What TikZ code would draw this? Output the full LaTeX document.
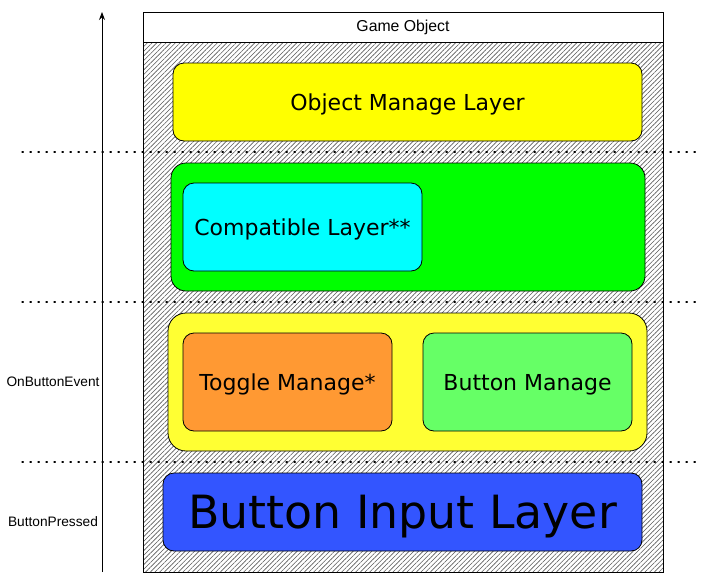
\documentclass[tikz,border=0pt]{standalone}
\usepackage{fontspec}
\setmainfont{DejaVu Sans}
\newfontfamily\etiqfont{Liberation Sans}
\usetikzlibrary{positioning, patterns.meta, arrows.meta}
\definecolor{amarillo}{HTML}{FFFF00}
\definecolor{amarillob}{HTML}{FFFF33}
\definecolor{verde}{HTML}{00FF00}
\definecolor{verdeb}{HTML}{66FF66}
\definecolor{cian}{HTML}{00FFFF}
\definecolor{naranja}{HTML}{FF9933}
\definecolor{azul}{HTML}{3355FF}
\tikzset{
	x=1pt, y=-1pt, % Un pixel por punto
	capa/.style={draw, line width=0.8pt, inner sep=0pt, text depth=0pt, font=\fontsize{22}{26}\selectfont}, % Cajas de las capas
	etiqueta/.style={font=\etiqfont\fontsize{13.7}{16}\selectfont}, % Textos de la izquierda
	separador/.style={line width=1.3pt, dash pattern=on 1.3pt off 6.7pt, line cap=round}, % Lineas punteadas
	rayado/.style={pattern={Lines[angle=45, distance=3.3pt, line width=0.6pt]}, pattern color=black!65} % Relleno del objeto
}

\begin{document}
\begin{tikzpicture}
	\useasboundingbox (0,0) rectangle (710,587);
	% contenedor
	\node[draw, line width=0.8pt, rayado, minimum width=520, minimum height=530] (go) at (403,307) {};
	\node[draw, line width=0.8pt, fill=white, minimum width=520, minimum height=30, etiqueta, font=\etiqfont\fontsize{15.8}{18}\selectfont] (tit) at (403,27) {Game Object};
	% separadores
	\foreach \y/\n in {152/s1, 302/s2, 462/s3} {
		\coordinate (\n a) at (22,\y);
		\coordinate (\n b) at (697,\y);
		\draw[separador] (\n a) -- (\n b);
	}
	% capas
	\node[capa, fill=amarillo, rounded corners=11, minimum width=469, minimum height=78] (om) at (407.5,102) {Object Manage Layer};
	\node[capa, fill=verde, rounded corners=15, minimum width=474, minimum height=128] (cg) at (408,227) {};
	\node[capa, fill=cian, rounded corners=11, minimum width=239, minimum height=88] (cl) at (302.5,227) {Compatible Layer**};
	\node[capa, fill=amarillob, rounded corners=18, minimum width=479, minimum height=138] (bg) at (407.5,382) {};
	\node[capa, fill=naranja, rounded corners=11, minimum width=209, minimum height=98] (tm) at (287.5,382) {Toggle Manage*};
	\node[capa, fill=verdeb, rounded corners=11, minimum width=209, minimum height=98] (bm) at (527.5,382) {Button Manage};
	\node[capa, fill=azul, rounded corners=11, minimum width=479, minimum height=78, font=\fontsize{45.8}{52}\selectfont] (bi) at (402.5,512) {Button Input Layer};
	% eje
	\coordinate (ej0) at (102,572);
	\coordinate (ej1) at (102,12);
	\draw[line width=0.9pt, -{Stealth[length=8pt, width=6pt]}] (ej0) -- (ej1);
	\node[etiqueta] (obe) at (53,382) {OnButtonEvent};
	\node[etiqueta] (bp) at (53,522) {ButtonPressed};
\end{tikzpicture}
\end{document}
